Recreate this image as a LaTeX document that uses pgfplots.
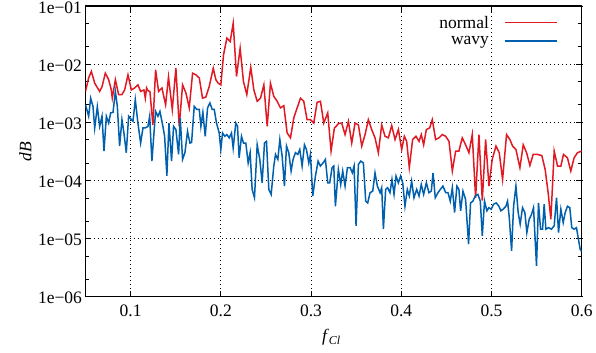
\documentclass[border=0pt]{standalone}
\usepackage{fontspec}
\setmainfont{Liberation Serif}
\usepackage{pgfplots}
\pgfplotsset{compat=1.18}
\usetikzlibrary{calc}
\definecolor{cred}{RGB}{225,25,35}
\definecolor{cblue}{RGB}{0,96,173}
\begin{document}
\begin{tikzpicture}
\begin{axis}[
 scale only axis, width=496.2pt, height=290.7pt,
 ymode=log, xmin=0.05, xmax=0.6, ymin=1e-6, ymax=1e-1,
 xtick={0.1,0.2,0.3,0.4,0.5,0.6}, xticklabels={0.1,0.2,0.3,0.4,0.5,0.6},
 ytick={1e-6,1e-5,1e-4,1e-3,1e-2,1e-1}, yticklabels={1e−06,1e−05,1e−04,1e−03,1e−02,1e−01},
 minor ytick={2e-6,5e-6,2e-5,5e-5,2e-4,5e-4,2e-3,5e-3,2e-2,5e-2},
 tick align=inside, tick pos=both,
 major tick length=6pt, minor tick length=3.5pt,
 every tick/.style={black, line width=0.8pt},
 axis line style={line width=1.2pt},
 grid=major, major grid style={black, line width=0.8pt, dash pattern=on 0.9pt off 3.1pt},
 ticklabel style={font=\fontsize{17.5}{20}\selectfont},
 xticklabel style={yshift=-4.5pt},
 yticklabel style={yshift=-1.5pt},
 label style={font=\fontsize{17.5}{20}\selectfont},
 xlabel={\textit{f}\raisebox{-3.5pt}{\fontsize{12}{14}\selectfont\textit{Cl}}},
 xlabel style={at={(axis description cs:0.495,-0.1524)}, anchor=base},
 ylabel={\textit{dB}},
 ylabel style={at={(axis description cs:-0.121,0.5)}, anchor=center},
 legend style={draw=none, fill=none, inner sep=0pt, at={(0.9516,0.978)}, anchor=north east,
   font=\fontsize{17.5}{15}\selectfont, row sep=0pt, nodes={inner ysep=3.3pt}},
 legend cell align=right, legend plot pos=right,
 legend image code/.code={\path (0pt,0pt); \draw[#1] (13pt,0pt) -- (65pt,0pt);},
]
\addplot[cred, line width=1.5pt, no marks] coordinates {
(0.0500,3.4e-3)(0.0535,5.8e-3)(0.0565,7.5e-3)(0.0602,4.7e-3)(0.0657,3.4e-3)(0.0683,4.1e-3)(0.0720,7.0e-3)(0.0757,5.4e-3)(0.0786,3.6e-3)(0.0797,2.6e-3)
(0.0831,5.4e-3)(0.0867,3.0e-3)(0.0904,3.0e-3)(0.0934,3.6e-3)(0.0971,6.55e-3)(0.1008,3.6e-3)(0.1045,3.9e-3)(0.1081,4.4e-3)(0.1111,3.4e-3)(0.1148,3.6e-3)
(0.1163,2.6e-3)(0.1177,3.9e-3)(0.1192,3.5e-3)(0.1214,3.4e-3)(0.1247,9.0e-4)(0.1277,8.0e-3)(0.1310,3.4e-3)(0.1347,3.9e-3)(0.1388,2.0e-3)(0.1420,6.0e-3)
(0.1462,1.66e-3)(0.1502,8.5e-3)(0.1539,8.5e-4)(0.1576,4.4e-3)(0.1613,3.2e-3)(0.1650,1.77e-3)(0.1687,7.0e-3)(0.1724,6.55e-3)(0.1761,5.8e-3)(0.1797,2.6e-3)
(0.1834,2.72e-3)(0.1871,4.1e-3)(0.1916,8.5e-3)(0.1945,5.4e-3)(0.1971,4.7e-3)(0.2000,4.4e-3)(0.2030,1.45e-2)(0.2067,2.8e-2)(0.2104,2.45e-2)(0.2137,5.05e-2)
(0.2174,6.15e-3)(0.2214,1.88e-2)(0.2251,5.0e-3)(0.2288,3.0e-3)(0.2332,8.8e-3)(0.2366,3.6e-3)(0.2403,2.3e-3)(0.2440,2.6e-3)(0.2477,4.4e-3)(0.2514,8.5e-4)
(0.2550,4.7e-3)(0.2587,2.8e-3)(0.2624,2.3e-3)(0.2661,1.77e-3)(0.2698,1.93e-3)(0.2735,6.55e-4)(0.2772,5.4e-4)(0.2809,1.19e-3)(0.2846,1.77e-3)(0.2883,2.6e-3)
(0.2919,2.3e-3)(0.2956,1.11e-3)(0.2993,1.11e-3)(0.3030,9.7e-4)(0.3067,2.2e-3)(0.3104,2.3e-3)(0.3141,9.7e-4)(0.3185,1.45e-3)(0.3222,3.2e-4)(0.3259,8.0e-4)
(0.3278,8.5e-4)(0.3303,9.5e-4)(0.3340,9.7e-4)(0.3377,6.15e-4)(0.3414,1.04e-3)(0.3451,4.4e-4)(0.3488,9.7e-4)(0.3525,9.0e-4)(0.3562,3.9e-4)(0.3599,6.15e-4)
(0.3635,1.11e-3)(0.3672,7.5e-4)(0.3709,5.4e-4)(0.3746,3.0e-4)(0.3783,9.0e-4)(0.3820,5.75e-4)(0.3857,5.4e-4)(0.3894,8.8e-4)(0.3931,5.05e-4)(0.3968,7.5e-4)
(0.4005,3.4e-4)(0.4034,5.75e-4)(0.4060,4.7e-4)(0.4089,1.66e-4)(0.4126,5.05e-4)(0.4163,5.75e-4)(0.4197,4.7e-4)(0.4222,6.15e-4)(0.4248,4.1e-4)(0.4278,7.5e-4)
(0.4315,8.0e-4)(0.4344,1.11e-3)(0.4381,5.05e-4)(0.4418,5.4e-4)(0.4455,6.15e-4)(0.4492,5.75e-4)(0.4529,4.7e-4)(0.4566,1.45e-4)(0.4603,3.2e-4)(0.4639,3.2e-4)
(0.4676,5.4e-4)(0.4713,4.1e-4)(0.4750,3.0e-4)(0.4787,6.15e-4)(0.4824,5.0e-5)(0.4861,6.15e-4)(0.4898,4.5e-5)(0.4935,5.05e-4)(0.4972,8.0e-5)(0.5008,2.3e-4)
(0.5050,3.9e-4)(0.5086,3.0e-4)(0.5123,1.04e-4)(0.5167,6.15e-4)(0.5204,5.05e-4)(0.5234,3.9e-4)(0.5271,3.4e-4)(0.5315,1.66e-4)(0.5352,4.1e-4)(0.5389,3.0e-4)
(0.5426,1.81e-4)(0.5462,2.8e-4)(0.5510,2.8e-4)(0.5558,2.68e-4)(0.5595,1.54e-4)(0.5628,6.15e-5)(0.5658,2.15e-5)(0.5695,3.2e-4)(0.5732,1.77e-4)(0.5769,1.77e-4)
(0.5798,2.8e-4)(0.5842,2.45e-4)(0.5879,1.45e-4)(0.5916,2.45e-4)(0.5953,3.0e-4)(0.6000,3.2e-4)
};
\addlegendentry{normal}
\addplot[cblue, line width=1.5pt, no marks] coordinates {
(0.0500,2.0e-3)(0.0535,1.27e-3)(0.0557,2.6e-3)(0.0583,1.88e-3)(0.0602,8.0e-4)(0.0631,1.85e-3)(0.0657,8.5e-4)(0.0683,1.27e-3)(0.0705,3.2e-4)(0.0731,1.27e-3)
(0.0757,9.7e-4)(0.0779,1.45e-3)(0.0805,1.48e-3)(0.0831,3.4e-3)(0.0853,1.88e-3)(0.0878,3.9e-4)(0.0904,1.11e-3)(0.0926,6.55e-4)(0.0952,3.0e-4)(0.0978,1.27e-3)
(0.1008,1.11e-3)(0.1026,1.04e-3)(0.1052,2.45e-3)(0.1081,9.7e-4)(0.1111,4.4e-4)(0.1137,8.0e-4)(0.1163,8.0e-4)(0.1192,8.5e-4)(0.1211,1.27e-3)(0.1236,2.15e-4)
(0.1259,6.55e-4)(0.1277,1.54e-3)(0.1303,1.27e-3)(0.1325,1.54e-3)(0.1358,8.5e-4)(0.1377,5.75e-4)(0.1402,1.2e-4)(0.1425,9.7e-4)(0.1454,2.15e-4)(0.1476,8.5e-4)
(0.1502,7.5e-4)(0.1532,2.8e-4)(0.1550,1.19e-3)(0.1576,2.3e-4)(0.1602,3.0e-4)(0.1631,7.0e-4)(0.1657,4.4e-4)(0.1676,4.5e-4)(0.1705,1.88e-3)(0.1735,1.66e-3)
(0.1761,1.66e-3)(0.1779,8.5e-4)(0.1801,1.48e-3)(0.1827,5.75e-4)(0.1853,1.77e-3)(0.1879,2.15e-3)(0.1904,1.66e-3)(0.1927,1.66e-3)(0.1952,9.7e-4)(0.1982,6.55e-4)
(0.2000,3.4e-4)(0.2019,6.55e-4)(0.2045,5.75e-4)(0.2067,6.15e-4)(0.2093,5.4e-4)(0.2118,6.55e-4)(0.2137,3.6e-4)(0.2166,9.7e-4)(0.2185,8.5e-4)(0.2203,2.45e-4)
(0.2229,5.75e-4)(0.2251,4.4e-4)(0.2277,4.4e-4)(0.2303,2.0e-4)(0.2325,3.0e-4)(0.2347,7.0e-5)(0.2373,5.05e-5)(0.2403,4.1e-4)(0.2432,2.3e-4)(0.2458,9.1e-5)
(0.2484,4.4e-4)(0.2506,4.7e-4)(0.2532,7.0e-5)(0.2558,5.75e-5)(0.2587,1.77e-4)(0.2606,2.8e-4)(0.2632,2.3e-4)(0.2654,5.05e-4)(0.2680,2.6e-4)(0.2705,8.0e-5)
(0.2728,3.9e-4)(0.2753,3.0e-4)(0.2779,1.45e-4)(0.2801,2.3e-4)(0.2827,3.0e-4)(0.2853,2.8e-4)(0.2875,3.4e-4)(0.2901,1.77e-4)(0.2927,4.1e-4)(0.2949,3.4e-4)
(0.2975,2.0e-4)(0.2993,2.8e-4)(0.3019,5.4e-5)(0.3049,1.19e-4)(0.3078,2.15e-4)(0.3104,1.77e-4)(0.3133,2.0e-4)(0.3159,2.3e-4)(0.3185,9.1e-5)(0.3207,9.1e-5)
(0.3233,1.66e-4)(0.3252,1.77e-4)(0.3270,3.6e-5)(0.3303,1.54e-4)(0.3329,8.5e-5)(0.3351,1.45e-4)(0.3377,8.0e-5)(0.3403,1.66e-4)(0.3433,1.66e-4)(0.3458,1.35e-4)
(0.3477,1.77e-4)(0.3499,1.66e-5)(0.3525,1.88e-4)(0.3551,2.15e-4)(0.3580,2.0e-4)(0.3606,4.4e-5)(0.3628,4.1e-5)(0.3654,6.15e-5)(0.3684,6.55e-5)(0.3709,1.35e-4)
(0.3735,8.0e-5)(0.3765,6.15e-5)(0.3783,7.5e-5)(0.3802,1.45e-5)(0.3827,7.0e-5)(0.3849,7.5e-5)(0.3875,6.15e-5)(0.3897,1.04e-4)(0.3920,5.75e-5)(0.3942,1.19e-4)
(0.3968,9.1e-5)(0.3993,1.19e-4)(0.4016,9.1e-5)(0.4041,3.6e-5)(0.4067,7.0e-5)(0.4089,5.4e-5)(0.4115,9.7e-5)(0.4141,5.05e-5)(0.4171,7.0e-5)(0.4197,5.4e-5)
(0.4222,8.5e-5)(0.4248,5.75e-5)(0.4278,9.1e-5)(0.4307,6.15e-5)(0.4333,6.55e-5)(0.4352,1.35e-4)(0.4377,5.05e-5)(0.4407,6.15e-5)(0.4433,7.0e-5)(0.4462,8.0e-5)
(0.4492,6.15e-5)(0.4518,6.15e-5)(0.4543,4.4e-5)(0.4566,7.5e-5)(0.4591,2.8e-5)(0.4617,8.0e-5)(0.4639,7.0e-5)(0.4658,3.0e-5)(0.4684,6.55e-5)(0.4713,4.7e-5)
(0.4746,8.0e-6)(0.4768,4.1e-5)(0.4794,4.4e-5)(0.4820,5.4e-5)(0.4850,5.75e-5)(0.4876,4.4e-5)(0.4898,1.11e-5)(0.4923,4.4e-5)(0.4949,3.0e-5)(0.4971,3.4e-5)
(0.4997,3.2e-5)(0.5023,3.9e-5)(0.5053,4.1e-5)(0.5082,3.6e-5)(0.5104,3.0e-5)(0.5130,3.2e-5)(0.5160,3.6e-5)(0.5178,4.4e-5)(0.5197,2.3e-5)(0.5223,6.15e-6)
(0.5245,3.6e-5)(0.5271,8.0e-5)(0.5296,2.8e-5)(0.5318,1.77e-5)(0.5344,3.4e-5)(0.5370,2.8e-5)(0.5392,1.27e-5)(0.5418,2.15e-5)(0.5444,2.6e-5)(0.5466,3.4e-5)
(0.5499,3.4e-6)(0.5521,4.1e-5)(0.5544,1.45e-5)(0.5566,1.45e-5)(0.5584,3.9e-5)(0.5603,1.45e-5)(0.5632,1.54e-5)(0.5665,1.45e-5)(0.5695,1.66e-5)(0.5721,5.05e-5)
(0.5743,1.27e-5)(0.5769,3.2e-5)(0.5795,1.88e-5)(0.5817,2.8e-5)(0.5842,3.6e-5)(0.5868,3.4e-5)(0.5890,1.54e-5)(0.5916,1.45e-5)(0.5942,1.54e-5)(0.5964,9.7e-6)
(0.5983,6.55e-6)(0.6000,6.0e-6)
};
\addlegendentry{wavy}
\end{axis}
\pgfresetboundingbox
\path (current axis.south west) ++(-85.5pt,-55.3pt) rectangle ($(current axis.north east)+(14.3pt,6pt)$);
\end{tikzpicture}
\end{document}
